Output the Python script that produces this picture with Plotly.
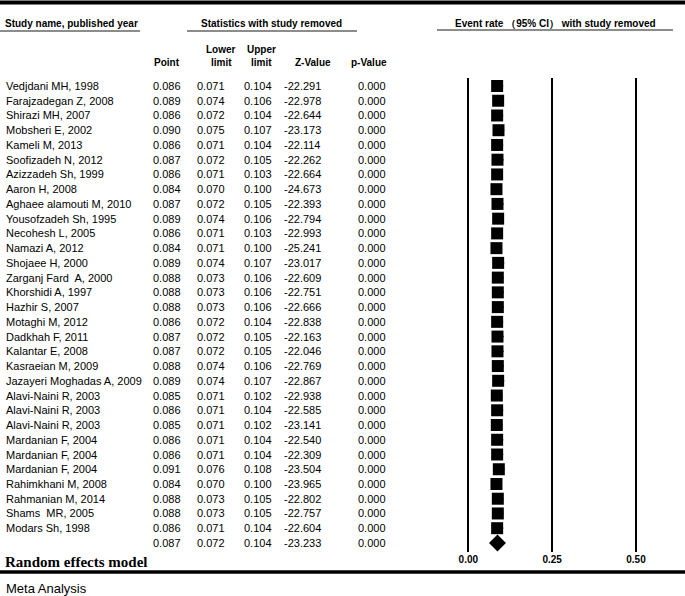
import plotly.graph_objects as go

studies = ["Vedjdani MH, 1998", "Farajzadegan Z, 2008", "Shirazi MH, 2007", "Mobsheri E, 2002",
           "Kameli M, 2013", "Soofizadeh N, 2012", "Azizzadeh Sh, 1999", "Aaron H, 2008",
           "Aghaee alamouti M, 2010", "Yousofzadeh Sh, 1995", "Necohesh L, 2005", "Namazi A, 2012",
           "Shojaee H, 2000", "Zarganj Fard  A, 2000", "Khorshidi A, 1997", "Hazhir S, 2007",
           "Motaghi M, 2012", "Dadkhah F, 2011", "Kalantar E, 2008", "Kasraeian M, 2009",
           "Jazayeri Moghadas A, 2009", "Alavi-Naini R, 2003", "Alavi-Naini R, 2003",
           "Alavi-Naini R, 2003", "Mardanian F, 2004", "Mardanian F, 2004", "Mardanian F, 2004",
           "Rahimkhani M, 2008", "Rahmanian M, 2014", "Shams  MR, 2005", "Modars Sh, 1998"]
point = [0.086, 0.089, 0.086, 0.090, 0.086, 0.087, 0.086, 0.084, 0.087, 0.089, 0.086, 0.084,
         0.089, 0.088, 0.088, 0.088, 0.086, 0.087, 0.087, 0.088, 0.089, 0.085, 0.086, 0.085,
         0.086, 0.086, 0.091, 0.084, 0.088, 0.088, 0.086]
lower = [0.071, 0.074, 0.072, 0.075, 0.071, 0.072, 0.071, 0.070, 0.072, 0.074, 0.071, 0.071,
         0.074, 0.073, 0.073, 0.073, 0.072, 0.072, 0.072, 0.074, 0.074, 0.071, 0.071, 0.071,
         0.071, 0.071, 0.076, 0.070, 0.073, 0.073, 0.071]
upper = [0.104, 0.106, 0.104, 0.107, 0.104, 0.105, 0.103, 0.100, 0.105, 0.106, 0.103, 0.100,
         0.107, 0.106, 0.106, 0.106, 0.104, 0.105, 0.105, 0.106, 0.107, 0.102, 0.104, 0.102,
         0.104, 0.104, 0.108, 0.100, 0.105, 0.105, 0.104]
zval = [-22.291, -22.978, -22.644, -23.173, -22.114, -22.262, -22.664, -24.673, -22.393, -22.794,
        -22.993, -25.241, -23.017, -22.609, -22.751, -22.666, -22.838, -22.163, -22.046, -22.769,
        -22.867, -22.938, -22.585, -23.141, -22.540, -22.309, -23.504, -23.965, -22.802, -22.757,
        -22.604]
pval = [0.000] * 31
summary = {"point": 0.087, "lower": 0.072, "upper": 0.104, "z": -23.233, "p": 0.000}
tick_vals = [0.0, 0.25, 0.5]
tick_text = ["0.00", "0.25", "0.50"]

W, H = 685, 596
FONT = "Liberation Sans, Arial, sans-serif"


def px(x):
    return x / W


def py(y):
    return 1 - y / H


rows = list(range(len(studies)))
sum_row = len(studies)

fig = go.Figure()
fig.add_trace(go.Scatter(
    x=point, y=rows, mode="markers",
    marker=dict(symbol="square", size=12, color="black"),
    error_x=dict(type="data", symmetric=False,
                 array=[u - p for u, p in zip(upper, point)],
                 arrayminus=[p - l for p, l in zip(point, lower)],
                 color="black", thickness=1.5, width=0),
    showlegend=False, hoverinfo="skip"))
fig.add_trace(go.Scatter(
    x=[summary["point"]], y=[sum_row], mode="markers",
    marker=dict(symbol="diamond", size=13, color="black"),
    showlegend=False, hoverinfo="skip"))

ann = []
col_right = [183, 227, 274, 323, 388]


def row_text(r, name, vals):
    if name:
        ann.append(dict(x=px(4), y=r, xref="paper", yref="y", text=name, showarrow=False,
                        xanchor="left", yanchor="middle", font=dict(size=11, color="black", family=FONT)))
    for cx, v in zip(col_right, vals):
        ann.append(dict(x=px(cx), y=r, xref="paper", yref="y", text=v, showarrow=False,
                        xanchor="right", yanchor="middle", font=dict(size=11, color="black", family=FONT)))


for i, nm in enumerate(studies):
    row_text(i, nm, [f"{point[i]:.3f}", f"{lower[i]:.3f}", f"{upper[i]:.3f}", f"{zval[i]:.3f}", f"{pval[i]:.3f}"])
row_text(sum_row, "", [f"{summary['point']:.3f}", f"{summary['lower']:.3f}", f"{summary['upper']:.3f}",
                       f"{summary['z']:.3f}", f"{summary['p']:.3f}"])


def hdr(x, y, text, anchor="center", size=10, bold=True, family=FONT):
    t = f"<b>{text}</b>" if bold else text
    ann.append(dict(x=px(x), y=py(y), xref="paper", yref="paper", text=t, showarrow=False,
                    xanchor=anchor, yanchor="middle", font=dict(size=size, color="black", family=family)))


hdr(3, 23, "Study name, published year", "left")
hdr(271, 23, "Statistics with study removed")
hdr(555, 23, "Event rate （95% CI） with study removed")
hdr(182, 62, "Point", "right")
hdr(221, 49, "Lower")
hdr(221, 62, "limit")
hdr(261, 49, "Upper")
hdr(261, 62, "limit")
hdr(333, 62, "Z-Value", "right")
hdr(369, 62, "p-Value")
hdr(3, 562, "Random effects model", "left", size=15, family="Liberation Serif, Times New Roman, serif")
hdr(4, 588, "Meta Analysis", "left", size=13, bold=False)

shapes = [
    dict(type="line", xref="paper", yref="paper", x0=0, x1=1, y0=py(2.5), y1=py(2.5),
         line=dict(color="black", width=4)),
    dict(type="line", xref="paper", yref="paper", x0=0, x1=1, y0=py(572), y1=py(572),
         line=dict(color="black", width=3.5)),
    dict(type="line", xref="paper", yref="paper", x0=px(0), x1=px(140), y0=py(31), y1=py(31),
         line=dict(color="#666666", width=1.5)),
    dict(type="line", xref="paper", yref="paper", x0=px(187), x1=px(357), y0=py(31), y1=py(31),
         line=dict(color="#666666", width=1.5)),
    dict(type="line", xref="paper", yref="paper", x0=px(437), x1=px(673), y0=py(30), y1=py(30),
         line=dict(color="#666666", width=1.5)),
]

x0_pix, unit = 468.3, 335.4
fig.update_layout(
    width=W, height=H, margin=dict(l=0, r=0, t=0, b=0),
    paper_bgcolor="white", plot_bgcolor="white",
    annotations=ann, shapes=shapes,
    xaxis=dict(range=[-x0_pix / unit, (W - x0_pix) / unit], domain=[0, 1],
               tickvals=tick_vals, ticktext=[f"<b>{t}</b>" for t in tick_text],
               tickfont=dict(size=10, color="black", family=FONT),
               showgrid=True, gridcolor="black", gridwidth=1.5, zeroline=False,
               showline=False, ticks="", fixedrange=True),
    yaxis=dict(range=[(552 - 86) / 14.74, (78 - 86) / 14.74], domain=[py(552), py(78)],
               showgrid=False, zeroline=False, showticklabels=False, ticks="", showline=False,
               fixedrange=True),
)

fig.write_html("out.html", config={"displayModeBar": False},
               post_script="document.body.style.margin='0';document.body.style.overflow='hidden';")
